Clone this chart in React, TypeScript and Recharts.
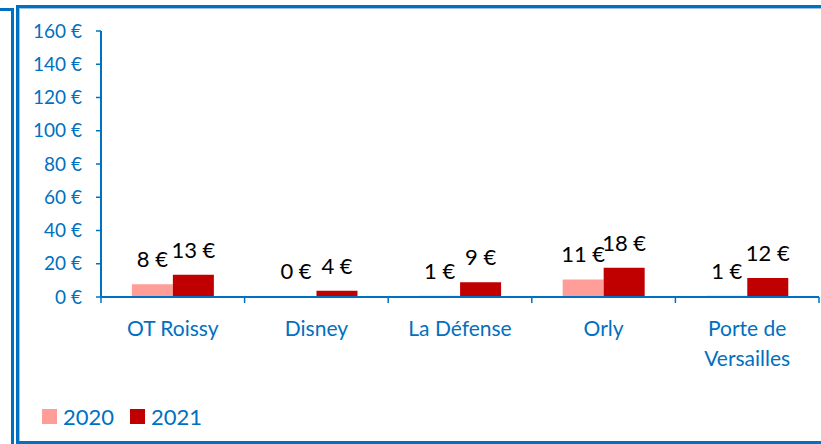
import { FC } from "react";
import { BarChart, Bar, XAxis, YAxis, LabelList } from "recharts";

// Commissions per sales point, 2020 vs 2021 (in €)
const categories = ["OT Roissy", "Disney", "La Défense", "Orly", "Porte de Versailles"];
const values2020 = [7.6, 0.4, 0.7, 10.6, 0.7];
const values2021 = [13.4, 3.8, 8.9, 17.6, 11.5];
const yTicks = [0, 20, 40, 60, 80, 100, 120, 140, 160];
const seriesNames = ["2020", "2021"];

const BLUE = "#0070C0";
const COLORS = ["#FF9E99", "#C00000"];
const FONT = "Lato, 'Open Sans', sans-serif";

const data = categories.map((name, i) => ({
  name,
  v2020: values2020[i],
  v2021: values2021[i],
}));

const euro = (v: number) => `${Math.round(v)} €`;

// splits long labels on the last space, like Excel wraps them
const splitLabel = (s: string) => {
  if (s.length <= 12) return [s];
  const i = s.lastIndexOf(" ");
  return [s.slice(0, i), s.slice(i + 1)];
};

const CategoryTick: FC<any> = ({ x, y, payload, index }) => {
  const half = payload?.offset ?? 71.8;
  const axisY = y - 8;
  const lines = splitLabel(String(payload.value));
  return (
    <g>
      <line x1={x - half} x2={x - half} y1={axisY} y2={axisY + 6} stroke={BLUE} strokeWidth={1.5} />
      {index === categories.length - 1 && (
        <line x1={x + half} x2={x + half} y1={axisY} y2={axisY + 6} stroke={BLUE} strokeWidth={1.5} />
      )}
      <text x={x} y={axisY + 39} textAnchor="middle" fill={BLUE} fontSize={21} fontFamily={FONT}>
        {lines.map((l, i) => (
          <tspan key={i} x={x} dy={i === 0 ? 0 : 30}>
            {l}
          </tspan>
        ))}
      </text>
    </g>
  );
};

const App: FC = () => {
  return (
    <div style={{ position: "absolute", left: 0, top: 0, width: 821, height: 444, overflow: "hidden", background: "#fff" }}>
      {/* frame of the neighbouring box on the left */}
      <div
        style={{
          position: "absolute",
          left: -10,
          top: 8,
          width: 24,
          height: 500,
          border: `3px solid ${BLUE}`,
          boxSizing: "border-box",
        }}
      />
      {/* chart frame */}
      <div
        style={{
          position: "absolute",
          left: 16,
          top: 5,
          width: 900,
          height: 439,
          border: `3px solid ${BLUE}`,
          boxShadow: "inset 1px 1px 0 #9DC3E6",
          boxSizing: "border-box",
        }}
      />
      <div style={{ position: "absolute", left: 0, top: 0 }}>
        <BarChart
          width={821}
          height={444}
          data={data}
          margin={{ top: 31, right: 2, left: 21, bottom: 87 }}
          barCategoryGap="21.5%"
          barGap={0}
        >
          <XAxis
            dataKey="name"
            height={60}
            axisLine={{ stroke: BLUE, strokeWidth: 2 }}
            tickLine={false}
            tickSize={6}
            tickMargin={2}
            interval={0}
            tick={<CategoryTick />}
          />
          <YAxis
            width={80}
            domain={[0, 160]}
            ticks={yTicks}
            tickFormatter={(v) => `${v} €`}
            axisLine={{ stroke: BLUE, strokeWidth: 2 }}
            tickLine={{ stroke: BLUE, strokeWidth: 1.5 }}
            tickSize={5}
            tickMargin={14}
            tick={{ fill: BLUE, fontSize: 19, fontFamily: FONT }}
          />
          <Bar dataKey="v2020" name="2020" fill={COLORS[0]} isAnimationActive={false}>
            <LabelList dataKey="v2020" position="top" offset={17} formatter={euro} fill="#000" fontSize={22} fontFamily={FONT} />
          </Bar>
          <Bar dataKey="v2021" name="2021" fill={COLORS[1]} isAnimationActive={false}>
            <LabelList dataKey="v2021" position="top" offset={17} formatter={euro} fill="#000" fontSize={22} fontFamily={FONT} />
          </Bar>
        </BarChart>
      </div>
      {/* legend */}
      <div
        style={{
          position: "absolute",
          left: 42,
          top: 403,
          display: "flex",
          alignItems: "center",
          fontFamily: FONT,
          fontSize: 22,
          color: BLUE,
        }}
      >
        {seriesNames.map((n, i) => (
          <div key={n} style={{ display: "flex", alignItems: "center", marginRight: 16 }}>
            <div style={{ width: 15, height: 15, background: COLORS[i], marginRight: 6 }} />
            <span>{n}</span>
          </div>
        ))}
      </div>
    </div>
  );
};

export default App;
